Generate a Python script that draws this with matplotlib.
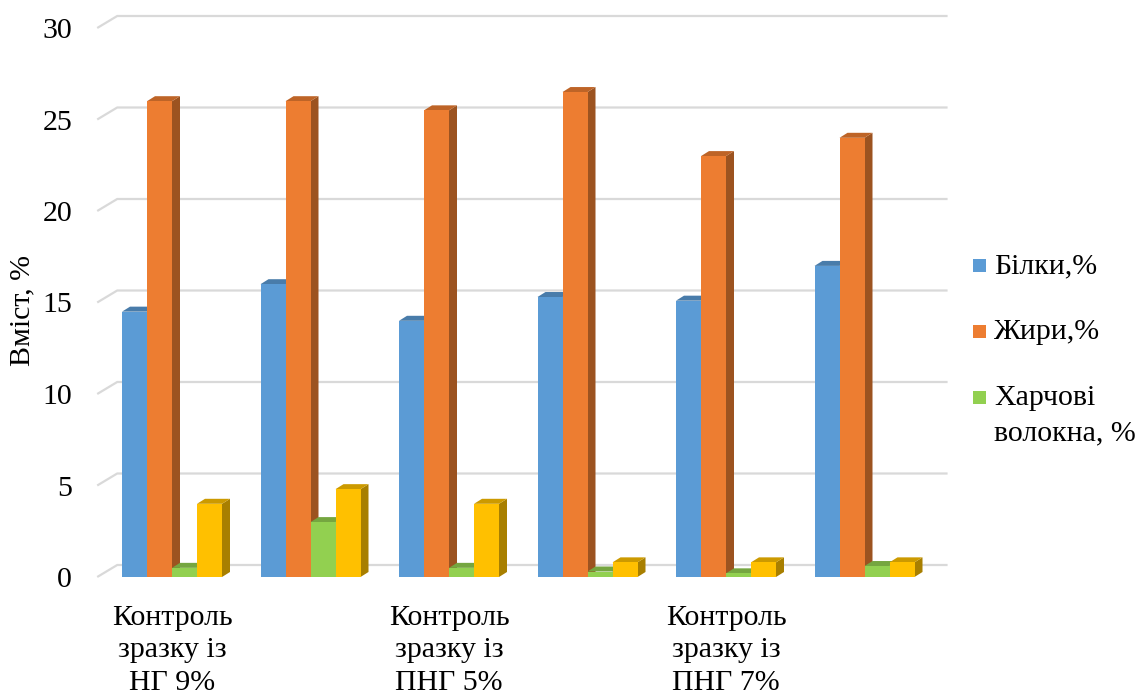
import matplotlib
import numpy as np
from matplotlib.colors import to_rgb
from matplotlib.patches import Rectangle

matplotlib.use('Agg')
import matplotlib.pyplot as plt

plt.rcParams['font.family'] = ['Liberation Serif', 'DejaVu Serif']

categories = ['Контроль\nзразку із\nНГ 9%', '', 'Контроль\nзразку із\nПНГ 5%', '',
              'Контроль\nзразку із\nПНГ 7%', '']
series_names = ['Білки,%', 'Жири,%', 'Харчові\nволокна, %', 'Вуглеводи,%']
protein = [14.5, 16.0, 14.0, 15.3, 15.1, 17.0]
fat = [26.0, 26.0, 25.5, 26.5, 23.0, 24.0]
fiber = [0.5, 3.0, 0.5, 0.3, 0.2, 0.6]
carbs = [4.0, 4.8, 4.0, 0.8, 0.8, 0.8]
y_ticks = [0, 5, 10, 15, 20, 25, 30]

series = [protein, fat, fiber, carbs]
colors = ['#5b9bd5', '#ed7d31', '#92d050', '#ffc000']

W, H = 1137, 695
GROUP_PX = 138.5      # one category in pixels
X0_PX = 172           # centre of the first group
ZERO_PX = 577         # value 0 on the front plane
UNIT_PX = 18.3        # pixels per percent
XLIM = (-0.6, 5.7)
YLIM = (-0.6, 31.5)
FS = 21.5

# depth of the floor and of each bar, expressed in data units
floor_dx, floor_dy = 20 / GROUP_PX, 12 / UNIT_PX
bar_dx, bar_dy = 8 / GROUP_PX, 5 / UNIT_PX
bar_w = 25 / GROUP_PX


def shade(color, f):
    return tuple(c * f for c in to_rgb(color))


fig = plt.figure(figsize=(W / 100, H / 100), dpi=100)
left_px = X0_PX + XLIM[0] * GROUP_PX
right_px = X0_PX + XLIM[1] * GROUP_PX
bottom_px = ZERO_PX - YLIM[0] * UNIT_PX
top_px = ZERO_PX - YLIM[1] * UNIT_PX
ax = fig.add_axes([left_px / W, 1 - bottom_px / H,
                   (right_px - left_px) / W, (bottom_px - top_px) / H])
ax.set_xlim(*XLIM)
ax.set_ylim(*YLIM)

# back wall gridlines with the slanted floor edge on the left
x_front = -0.54
x_back = x_front + floor_dx
x_end = 5.6
for t in y_ticks:
    ax.plot([x_front, x_back, x_end], [t, t + floor_dy, t + floor_dy],
            color='#d9d9d9', lw=1.6, zorder=1, solid_capstyle='butt')

x = np.arange(len(categories))
for j, (vals, col) in enumerate(zip(series, colors)):
    lefts = x + (j - 2) * bar_w
    for xl, v in zip(lefts, vals):
        xr = xl + bar_w
        # right side face
        ax.fill([xr, xr + bar_dx, xr + bar_dx, xr], [0, bar_dy, v + bar_dy, v],
                color=shade(col, 0.66), lw=0, zorder=2 + 2 * j)
        # top face
        ax.fill([xl, xr, xr + bar_dx, xl + bar_dx], [v, v, v + bar_dy, v + bar_dy],
                color=shade(col, 0.8), lw=0, zorder=2 + 2 * j)
    ax.bar(lefts, vals, width=bar_w, align='edge', color=col, lw=0, zorder=3 + 2 * j)

ax.set_xticks(x, categories, fontsize=FS, linespacing=1.33)
ax.set_yticks(y_ticks, [str(t) for t in y_ticks], fontsize=FS)
ax.tick_params(axis='both', length=0)
ax.tick_params(axis='x', pad=12)
ax.tick_params(axis='y', pad=12)
for s in ax.spines.values():
    s.set_visible(False)

fig.text(22 / W, 1 - 310 / H, 'Вміст, %', rotation=90, ha='center', va='center',
         fontsize=FS)

# legend for the first three series, one text per line
legend_rows = [266, 332, 398]
line_pitch = 35.5
for name, col, y in zip(series_names[:3], colors[:3], legend_rows):
    fig.add_artist(Rectangle((973 / W, 1 - (y + 6) / H), 13 / W, 13 / H,
                             transform=fig.transFigure, color=col, lw=0))
    for k, line in enumerate(name.split('\n')):
        fig.text(994 / W, 1 - (y + k * line_pitch) / H, line, ha='left',
                 va='center', fontsize=FS)

fig.savefig('out.png', dpi=100)
plt.close(fig)
